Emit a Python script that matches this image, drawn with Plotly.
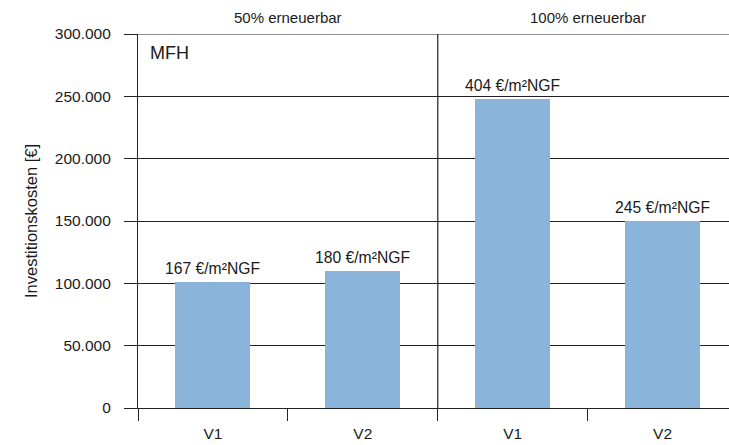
import plotly.graph_objects as go

# Investment costs per variant, grouped by renewable share
variants = ["V1", "V2", "V1", "V2"]
groups = ["50% erneuerbar", "100% erneuerbar"]
costs = [101000, 110000, 248000, 150000]
specific_labels = ["167 €/m²NGF", "180 €/m²NGF", "404 €/m²NGF", "245 €/m²NGF"]
y_ticks = [0, 50000, 100000, 150000, 200000, 250000, 300000]

FONT = "Liberation Sans"
INK = "#1a1a1a"
LINE = "#222222"
BAR = "#8AB4DA"

positions = list(range(len(variants)))

fig = go.Figure()
fig.add_trace(go.Bar(
    x=positions,
    y=costs,
    width=0.5,
    marker=dict(color=BAR, line=dict(width=0)),
    hoverinfo="skip",
    showlegend=False,
))

# Specific cost labels above each bar
annotations = []
for xi, yi, lab in zip(positions, costs, specific_labels):
    annotations.append(dict(
        x=xi, y=yi, xref="x", yref="y", text=lab, showarrow=False,
        xanchor="center", yanchor="bottom", yshift=3,
        font=dict(family=FONT, size=15.7, color=INK),
    ))

# Group headers above the plot
for gi, g in enumerate(groups):
    annotations.append(dict(
        x=gi * 2 + 0.5, y=1, xref="x", yref="paper", text=g, showarrow=False,
        xanchor="center", yanchor="bottom", yshift=6,
        font=dict(family=FONT, size=15, color=INK),
    ))

# Building type tag
annotations.append(dict(
    x=0.017, y=0.98, xref="paper", yref="paper", text="MFH", showarrow=False,
    xanchor="left", yanchor="top",
    font=dict(family=FONT, size=18, color=INK),
))

# Y-axis title
annotations.append(dict(
    x=-0.181, y=0.5, xref="paper", yref="paper", text="Investitionskosten [€]",
    showarrow=False, textangle=-90, xanchor="center", yanchor="middle",
    font=dict(family=FONT, size=16.5, color=INK),
))

fig.update_layout(
    width=729, height=445,
    margin=dict(l=138, r=0, t=34, b=37),
    paper_bgcolor="white", plot_bgcolor="white",
    separators=",.",
    font=dict(family=FONT, size=15.5, color=INK),
    annotations=annotations,
    bargap=0,
    shapes=[
        # divider between the two groups
        dict(type="line", xref="x", yref="paper", x0=1.5, x1=1.5, y0=0, y1=1,
             line=dict(color=LINE, width=1.2), layer="above"),
        # top border line
        dict(type="line", xref="paper", yref="y", x0=-0.022, x1=1, y0=300000, y1=300000,
             line=dict(color=LINE, width=1.2), layer="below"),
    ],
)

fig.update_xaxes(
    range=[-0.5, 3.443],
    tickmode="array", tickvals=positions, ticktext=variants,
    ticks="", showgrid=False, zeroline=False,
    showline=True, linecolor=LINE, linewidth=1.2,
    tickfont=dict(family=FONT, size=15.5, color=INK),
    minor=dict(tickmode="array", tickvals=[-0.5, 0.5, 1.5, 2.5, 3.5],
               ticks="outside", ticklen=12, tickcolor=LINE, tickwidth=1.2, showgrid=False),
    ticklabelstandoff=11,
)

fig.update_yaxes(
    range=[0, 300000],
    tickmode="array", tickvals=y_ticks, tickformat=",d",
    ticks="outside", ticklen=13, tickcolor=LINE, tickwidth=1.2,
    showgrid=True, gridcolor=LINE, gridwidth=1.2,
    zeroline=False,
    showline=True, linecolor=LINE, linewidth=1.2,
    tickfont=dict(family=FONT, size=15.5, color=INK),
    ticklabelstandoff=10,
)

fig.write_html("out.html")
